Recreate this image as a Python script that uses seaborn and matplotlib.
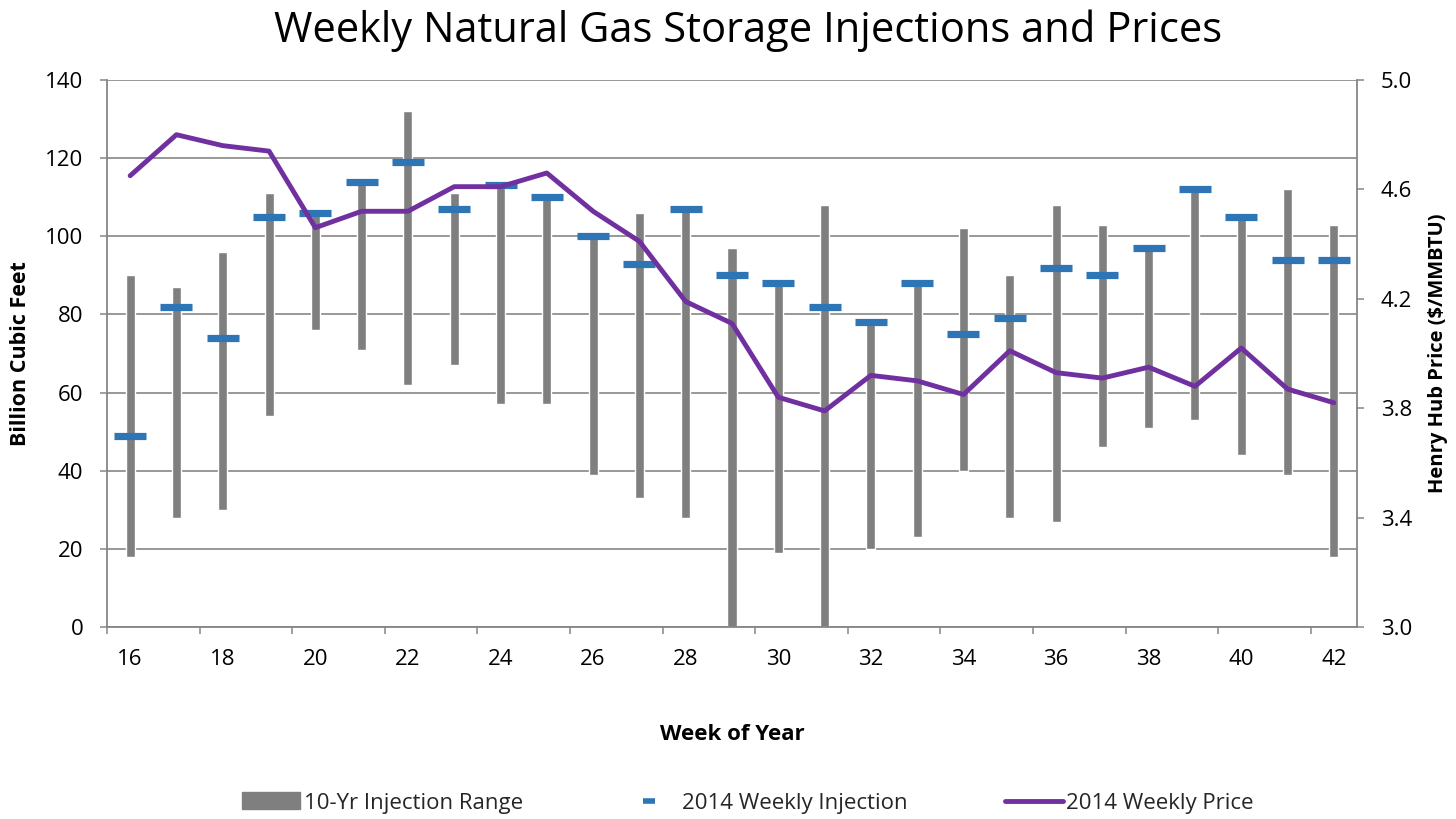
import numpy as np
import pandas as pd
import matplotlib
matplotlib.use("Agg")
import matplotlib.pyplot as plt
import seaborn as sns
from matplotlib.patches import Patch
from matplotlib.lines import Line2D

weeks = list(range(16, 43))
range_low = [18, 28, 30, 54, 76, 71, 62, 67, 57, 57,
             39, 33, 28, 0, 19, 0, 20, 23, 40, 28,
             27, 46, 51, 53, 44, 39, 18]
range_high = [90, 87, 96, 111, 106, 114, 132, 111, 113, 110,
              100, 106, 107, 97, 88, 108, 78, 88, 102, 90,
              108, 103, 97, 112, 105, 112, 103]
injection_2014 = [49, 82, 74, 105, 106, 114, 119, 107, 113, 110,
                  100, 93, 107, 90, 88, 82, 78, 88, 75, 79,
                  92, 90, 97, 112, 105, 94, 94]
price_2014 = [4.65, 4.80, 4.76, 4.74, 4.46, 4.52, 4.52, 4.61, 4.61, 4.66,
              4.52, 4.41, 4.19, 4.11, 3.84, 3.79, 3.92, 3.90, 3.85, 4.01,
              3.93, 3.91, 3.95, 3.88, 4.02, 3.87, 3.82]
left_ticks = [0, 20, 40, 60, 80, 100, 120, 140]
right_ticks = [3.0, 3.4, 3.8, 4.2, 4.6, 5.0]

GRAY = "#7f7f7f"
BLUE = "#2e75b6"
PURPLE = "#7030a0"
AXC = "#868686"

sns.set_theme(style="white")
plt.rcParams["font.family"] = ["Open Sans", "DejaVu Sans"]

df = pd.DataFrame({
    "week": [str(w) for w in weeks],
    "low": range_low,
    "span": np.array(range_high) - np.array(range_low),
    "inj": injection_2014,
    "price": price_2014,
})
pos = np.arange(len(weeks))

fig = plt.figure(figsize=(14.56, 8.19), dpi=100)
ax = fig.add_axes([107 / 1456, 1 - 627 / 819, 1250 / 1456, 547 / 819])

ax.bar(pos, df["span"], bottom=df["low"], width=0.195, color=GRAY, zorder=2)
sns.scatterplot(x=pos, y=df["inj"], marker="_", s=560, linewidth=5.2,
                color=BLUE, ax=ax, zorder=3, legend=False)

ax.set_xlim(-0.5, len(weeks) - 0.5)
ax.set_ylim(0, 140)
ax.set_yticks(left_ticks)
ax.set_yticklabels([str(t) for t in left_ticks])
ax.yaxis.grid(True, color=AXC, linewidth=1.2, zorder=0)
ax.set_axisbelow(True)

ax.set_xticks(np.arange(-0.5, len(weeks) - 1, 2))
ax.set_xticklabels([])
ax.set_xticks(pos[::2], minor=True)
ax.set_xticklabels([str(w) for w in weeks[::2]], minor=True)
ax.tick_params(axis="x", which="major", length=5, width=1.1, color=AXC, direction="out", bottom=True)
ax.tick_params(axis="x", which="minor", length=0, pad=16, labelsize=16, labelcolor="black")
ax.tick_params(axis="y", length=5, width=1.1, color=AXC, direction="out", left=True, pad=12,
               labelsize=16, labelcolor="black")

for s in ["top", "right"]:
    ax.spines[s].set_visible(False)
for s in ["left", "bottom"]:
    ax.spines[s].set_color(AXC)
    ax.spines[s].set_linewidth(1.3)

ax.set_xlabel("Week of Year", fontsize=16, fontweight="bold", color="black")
ax.xaxis.set_label_coords(0.5, -0.178)
ax.set_ylabel("Billion Cubic Feet", fontsize=15.5, fontweight="bold", color="black")
ax.yaxis.set_label_coords(-0.0608, 0.5)

ax2 = ax.twinx()
sns.lineplot(x=pos, y=df["price"], color=PURPLE, linewidth=3.5, ax=ax2, zorder=4)
ax2.set_ylim(3.0, 5.0)
ax2.set_yticks(right_ticks)
ax2.set_yticklabels([f"{t:.1f}" for t in right_ticks])
ax2.tick_params(axis="y", length=5, width=1.1, color=AXC, direction="out", right=True, pad=12,
                labelsize=16, labelcolor="black")
for s in ["top", "left", "bottom"]:
    ax2.spines[s].set_visible(False)
ax2.spines["right"].set_color(AXC)
ax2.spines["right"].set_linewidth(1.3)
ax2.set_ylabel("Henry Hub Price ($/MMBTU)", fontsize=14.5, fontweight="bold", color="black")
ax2.yaxis.set_label_coords(1.0568, 0.5)
ax2.grid(False)

fig.text(748 / 1456, 1 - 31 / 819, "Weekly Natural Gas Storage Injections and Prices",
         ha="center", va="center", fontsize=30, color="black")

handles = [
    Patch(facecolor=GRAY, edgecolor=GRAY),
    Line2D([], [], color=BLUE, marker="_", linestyle="none", markersize=8, markeredgewidth=4),
    Line2D([], [], color=PURPLE, linewidth=3.5),
]
labels = ["10-Yr Injection Range", "2014 Weekly Injection", "2014 Weekly Price"]
fig.legend(handles, labels, loc="center", bbox_to_anchor=(748 / 1456, 1 - 803 / 819), ncol=3,
           frameon=False, fontsize=16, handlelength=2.6, handleheight=0.8, handletextpad=0.15,
           columnspacing=4.4)

fig.savefig("out.png", dpi=100)
